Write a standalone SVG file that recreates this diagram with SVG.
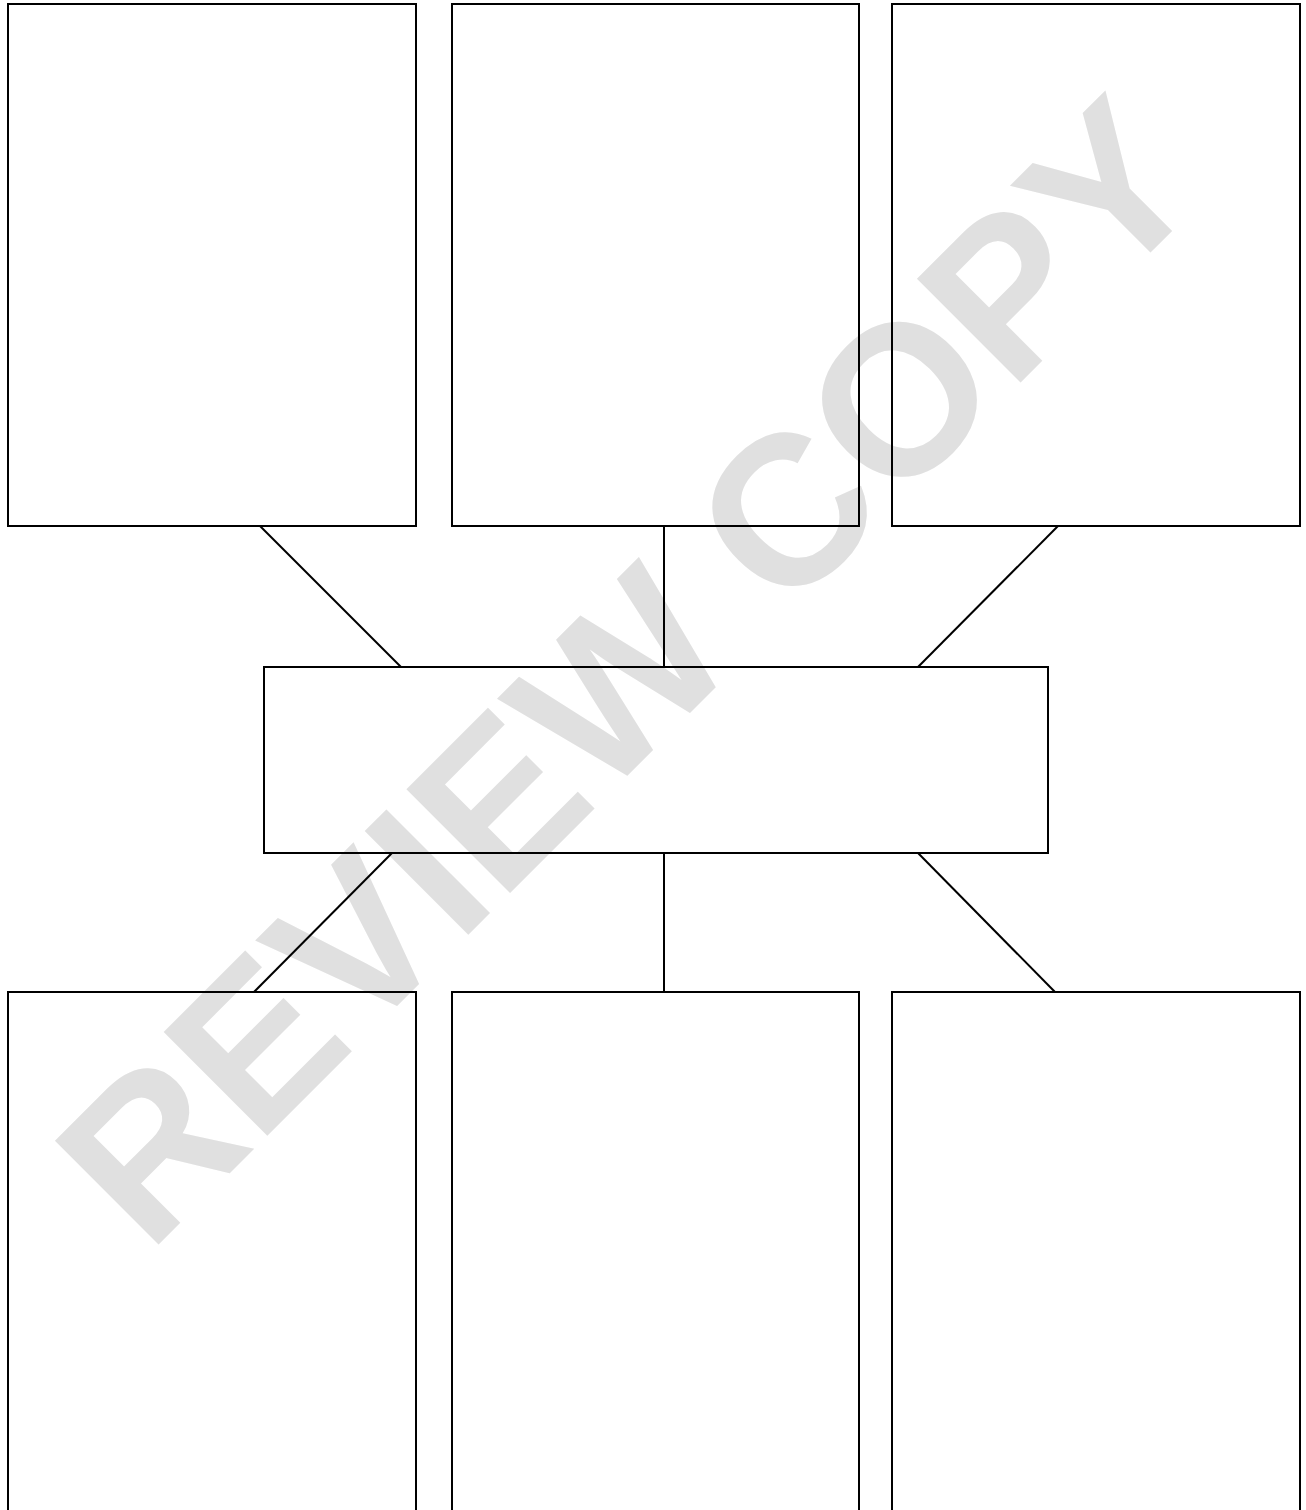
<svg xmlns="http://www.w3.org/2000/svg" width="1306" height="1510" viewBox="0 0 1306 1510">
<style>
.box{fill:none;stroke:#000;stroke-width:2}
.conn{stroke:#000;stroke-width:2;fill:none}
.wm{font-family:"Liberation Sans",Arial,sans-serif;font-weight:bold;font-size:213px;fill:#e0e0e0}
</style>
<rect width="1306" height="1510" fill="#fff"/>
<text class="wm" x="680" y="723" text-anchor="middle" transform="rotate(-45 680 723)">REVIEW COPY</text>
<g id="node-top-left"><rect class="box" x="8" y="4" width="408" height="522"/></g>
<g id="node-top-middle"><rect class="box" x="452" y="4" width="407" height="522"/></g>
<g id="node-top-right"><rect class="box" x="892" y="4" width="408" height="522"/></g>
<g id="node-center"><rect class="box" x="264" y="667" width="784" height="186"/></g>
<g id="node-bottom-left"><rect class="box" x="8" y="992" width="408" height="540"/></g>
<g id="node-bottom-middle"><rect class="box" x="452" y="992" width="407" height="540"/></g>
<g id="node-bottom-right"><rect class="box" x="892" y="992" width="408" height="540"/></g>
<g id="connectors">
<line class="conn" x1="260" y1="526" x2="401" y2="667"/>
<line class="conn" x1="664" y1="526" x2="664" y2="667"/>
<line class="conn" x1="1058" y1="526" x2="918" y2="667"/>
<line class="conn" x1="392" y1="853" x2="254" y2="992"/>
<line class="conn" x1="664" y1="853" x2="664" y2="992"/>
<line class="conn" x1="918" y1="853" x2="1055" y2="992"/>
</g>
</svg>
